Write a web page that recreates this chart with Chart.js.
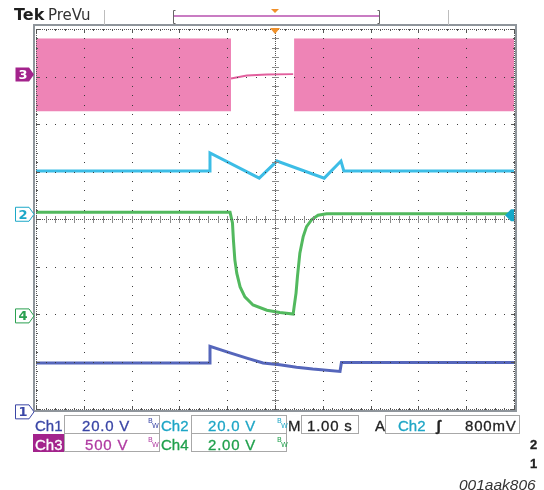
<!DOCTYPE html>
<html>
<head>
<meta charset="utf-8">
<script src="https://cdn.jsdelivr.net/npm/chart.js@4.4.0/dist/chart.umd.min.js"></script>
<style>
  body { margin: 0; background: #fff; }
  #wrap { position: relative; width: 544px; height: 490px; overflow: hidden; }
  #scope { position: absolute; left: 0; top: 0; }
  .t { position: absolute; white-space: nowrap; line-height: 15px; font: 15px 'Liberation Sans', sans-serif; -webkit-text-stroke: 0.3px currentColor; }
  .v { letter-spacing: 0.8px; }
  .box { position: absolute; border: 1px solid #a8a8a8; box-sizing: border-box; height: 19px; }
  .bw { position: absolute; font: 7px 'DejaVu Sans', sans-serif; line-height: 7px; }
  .bw span { position: absolute; }
</style>
</head>
<body>
<div id="wrap">
  <canvas id="scope" width="544" height="490"></canvas>

  <div class="t" style="left:14px;top:7px;font:bold 16px 'DejaVu Sans';line-height:16px;color:#1e1e1e;-webkit-text-stroke:0">Tek</div>
  <div class="t" style="left:48px;top:8px;font:15px 'DejaVu Sans';line-height:15px;color:#333;-webkit-text-stroke:0">PreVu</div>

  <!-- row 1 -->
  <div class="box" style="left:64px;top:415px;width:96px"></div>
  <div class="box" style="left:191px;top:415px;width:96px"></div>
  <div class="box" style="left:301px;top:415px;width:58px"></div>
  <div class="box" style="left:385px;top:415px;width:135px"></div>
  <div class="t" style="left:35px;top:417px;color:#3a46a6">Ch1</div>
  <div class="t v" style="left:82px;top:417px;color:#3a46a6">20.0 V</div>
  <div class="bw" style="left:148px;top:418px;color:#3a46a6"><span style="left:0;top:0">B</span><span style="left:4px;top:5px">W</span></div>
  <div class="t" style="left:161px;top:417px;color:#1fa6c6">Ch2</div>
  <div class="t v" style="left:208px;top:417px;color:#1fa6c6">20.0 V</div>
  <div class="bw" style="left:277px;top:418px;color:#1fa6c6"><span style="left:0;top:0">B</span><span style="left:4px;top:5px">W</span></div>
  <div class="t" style="left:288px;top:417px;color:#222">M</div>
  <div class="t v" style="left:307px;top:417px;color:#222">1.00 s</div>
  <div class="t" style="left:375px;top:417px;color:#222">A</div>
  <div class="t" style="left:398px;top:417px;color:#1fa6c6">Ch2</div>
  <div class="t" style="left:436px;top:417px;color:#222;font-weight:bold">ʃ</div>
  <div class="t v" style="left:465px;top:417px;color:#222">800mV</div>

  <!-- row 2 -->
  <div class="box" style="left:64px;top:433px;width:96px"></div>
  <div class="box" style="left:191px;top:433px;width:96px"></div>
  <div class="t" style="left:33px;top:434px;width:31px;height:18px;background:#a3238c"></div>
  <div class="t" style="left:35px;top:436px;color:#fff">Ch3</div>
  <div class="t v" style="left:85px;top:436px;color:#b03ca2">500 V</div>
  <div class="bw" style="left:148px;top:437px;color:#b03ca2"><span style="left:0;top:0">B</span><span style="left:4px;top:5px">W</span></div>
  <div class="t" style="left:161px;top:436px;color:#20a04c">Ch4</div>
  <div class="t v" style="left:208px;top:436px;color:#20a04c">2.00 V</div>
  <div class="bw" style="left:277px;top:437px;color:#20a04c"><span style="left:0;top:0">B</span><span style="left:4px;top:5px">W</span></div>

  <div class="t" style="left:530px;top:437px;font:bold 13px 'Liberation Sans';color:#222">2</div>
  <div class="t" style="left:530px;top:456px;font:bold 13px 'Liberation Sans';color:#222">1</div>
  <div class="t" style="left:459px;top:476px;font:italic 15.5px 'Liberation Sans';color:#333;-webkit-text-stroke:0">001aak806</div>
</div>

<script>
// time in seconds (1.00 s/div, trigger at 0), levels in screen divisions
const gridTimes = [-5, -4, -3, -2, -1, 0, 1, 2, 3, 4, 5];
const gridLevels = [-4, -3, -2, -1, 0, 1, 2, 3, 4];

// Ch3: switching burst band, off while the load is connected
const ch3BurstStart = [-5, 0.40];
const ch3BurstEnd = [-0.92, 5];
const ch3BurstTop = 3.79;
const ch3BurstBottom = 2.27;
const ch3GapTime = [-0.92, -0.59, -0.17, 0.38];
const ch3GapDiv = [2.96, 3.02, 3.04, 3.05];

// Ch2 (light blue)
const ch2Time = [-5, -1.38, -1.36, -0.33, 0.04, 1.03, 1.38, 1.44, 5];
const ch2Div = [1.01, 1.01, 1.39, 0.86, 1.22, 0.86, 1.22, 1.01, 1.01];

// Ch4 (green)
const ch4Time = [-5, -0.94, -0.89, -0.87, -0.84, -0.80, -0.73, -0.63, -0.46, -0.17, 0.10, 0.38,
                 0.40, 0.44, 0.47, 0.52, 0.59, 0.66, 0.77, 0.90, 1.08, 5];
const ch4Div = [0.14, 0.14, -0.08, -0.44, -0.86, -1.14, -1.43, -1.64, -1.81, -1.92, -1.97, -2.0,
                -1.85, -1.56, -1.21, -0.72, -0.37, -0.16, -0.01, 0.08, 0.11, 0.11];

// Ch1 (dark blue)
const ch1Time = [-5, -1.38, -1.36, -0.94, -0.59, -0.25, 0.10, 0.45, 0.79, 1.36, 1.39, 5];
const ch1Div = [-3.03, -3.03, -2.68, -2.82, -2.93, -3.03, -3.07, -3.12, -3.16, -3.21, -3.02, -3.02];

// channel ground markers on the left edge
const markerLabels = ['3', '2', '4', '1'];
const markerLevels = [3.04, 0.1, -2.04, -4.06];
const markerColors = ['#a3238c', '#1ca8c8', '#2aa050', '#3a46a6'];
const triggerLevel = 0.08;

const pink = '#ee84b6';

function pts(xs, ys) {
    return xs.map((v, i) => ({ x: v, y: ys[i] }));
}

const burstSets = ch3BurstStart.map((s, i) => ({
    data: [{ x: s, y: ch3BurstTop }, { x: ch3BurstEnd[i], y: ch3BurstTop }],
    borderColor: pink,
    borderWidth: 1,
    backgroundColor: pink,
    fill: { value: ch3BurstBottom }
}));

const scopeGrid = {
    id: 'scopeGrid',
    afterDatasetsDraw(chart) {
        const { ctx, chartArea: a, scales: { x, y } } = chart;
        ctx.save();

        // plain grid lines: dots every 1/5 division
        ctx.fillStyle = '#3c3c3c';
        gridTimes.forEach(t => {
            if (t === 0 || t === -5 || t === 5) return;
            const px = Math.round(x.getPixelForValue(t));
            for (let k = 0; k <= 40; k++) {
                ctx.fillRect(px, Math.round(y.getPixelForValue(-4 + k * 0.2)), 1, 1);
            }
        });
        gridLevels.forEach(v => {
            if (v === 0 || v === -4 || v === 4) return;
            const py = Math.round(y.getPixelForValue(v));
            for (let k = 0; k <= 50; k++) {
                ctx.fillRect(Math.round(x.getPixelForValue(-5 + k * 0.2)), py, 1, 1);
            }
        });

        // centre cross with minor ticks
        const cx = Math.round(x.getPixelForValue(0));
        const cy = Math.round(y.getPixelForValue(0));
        ctx.fillStyle = '#555';
        for (let p = a.top; p <= a.bottom; p += 2) ctx.fillRect(cx, p, 1, 1);
        for (let p = a.left; p <= a.right; p += 2) ctx.fillRect(p, cy, 1, 1);
        ctx.fillStyle = '#8a8a8a';
        for (let k = 0; k <= 40; k++) {
            const py = Math.round(y.getPixelForValue(-4 + k * 0.2));
            ctx.fillRect(cx - 3, py, 7, 1);
        }
        for (let k = 0; k <= 50; k++) {
            const px = Math.round(x.getPixelForValue(-5 + k * 0.2));
            ctx.fillRect(px, cy - 3, 1, 7);
        }

        // edges: dotted line and inward ticks
        ctx.fillStyle = '#555';
        for (let p = a.left; p <= a.right; p += 2) {
            ctx.fillRect(p, a.top, 1, 1);
            ctx.fillRect(p, a.bottom, 1, 1);
        }
        for (let p = a.top; p <= a.bottom; p += 2) {
            ctx.fillRect(a.left, p, 1, 1);
            ctx.fillRect(a.right, p, 1, 1);
        }
        for (let k = 0; k <= 50; k++) {
            const px = Math.round(x.getPixelForValue(-5 + k * 0.2));
            const len = k % 5 === 0 ? 4 : 2;
            ctx.fillRect(px, a.top, 1, len);
            ctx.fillRect(px, a.bottom - len + 1, 1, len);
        }
        for (let k = 0; k <= 40; k++) {
            const py = Math.round(y.getPixelForValue(-4 + k * 0.2));
            const len = k % 5 === 0 ? 4 : 2;
            ctx.fillRect(a.left, py, len, 1);
            ctx.fillRect(a.right - len + 1, py, len, 1);
        }

        // frame
        ctx.strokeStyle = '#8f959b';
        ctx.lineWidth = 2;
        ctx.strokeRect(a.left - 2, a.top - 4, a.right - a.left + 4, a.bottom - a.top + 6);
        ctx.restore();
    },
    afterDraw(chart) {
        const { ctx, chartArea: a, scales: { x, y } } = chart;
        ctx.save();
        const tx = x.getPixelForValue(0);

        // record bar at the top
        ctx.strokeStyle = '#bdbdbd';
        ctx.lineWidth = 1;
        ctx.beginPath();
        ctx.moveTo(104.5, 10); ctx.lineTo(104.5, a.top - 4);
        ctx.moveTo(448.5, 10); ctx.lineTo(448.5, a.top - 4);
        ctx.stroke();
        ctx.strokeStyle = '#c97cc3';
        ctx.lineWidth = 2;
        ctx.beginPath();
        ctx.moveTo(173, 16); ctx.lineTo(380, 16);
        ctx.stroke();
        ctx.strokeStyle = '#666';
        ctx.lineWidth = 1;
        ctx.beginPath();
        ctx.moveTo(175.5, 10.5); ctx.lineTo(173.5, 10.5); ctx.lineTo(173.5, 23.5); ctx.lineTo(175.5, 23.5);
        ctx.moveTo(377.5, 10.5); ctx.lineTo(379.5, 10.5); ctx.lineTo(379.5, 23.5); ctx.lineTo(377.5, 23.5);
        ctx.stroke();

        ctx.fillStyle = '#f0902a';
        ctx.beginPath();
        ctx.moveTo(tx - 4, 9); ctx.lineTo(tx + 4, 9); ctx.lineTo(tx, 13); ctx.closePath();
        ctx.fill();
        ctx.beginPath();
        ctx.moveTo(tx - 5, a.top - 1); ctx.lineTo(tx + 5, a.top - 1); ctx.lineTo(tx, a.top + 5); ctx.closePath();
        ctx.fill();

        // trigger level arrow on the right
        const ty = y.getPixelForValue(triggerLevel);
        ctx.fillStyle = '#14a8c8';
        ctx.beginPath();
        ctx.moveTo(a.right - 9, ty); ctx.lineTo(a.right - 3, ty - 6); ctx.lineTo(a.right, ty - 6);
        ctx.lineTo(a.right, ty + 6); ctx.lineTo(a.right - 3, ty + 6); ctx.closePath();
        ctx.fill();

        // channel markers
        ctx.font = 'bold 13px "DejaVu Sans"';
        ctx.textAlign = 'center';
        ctx.textBaseline = 'middle';
        markerLabels.forEach((lab, i) => {
            const my = y.getPixelForValue(markerLevels[i]);
            const c = markerColors[i];
            ctx.beginPath();
            ctx.moveTo(15.5, my - 7); ctx.lineTo(29, my - 7); ctx.lineTo(34, my);
            ctx.lineTo(29, my + 7); ctx.lineTo(15.5, my + 7); ctx.closePath();
            if (i === 0) {
                ctx.fillStyle = c;
                ctx.fill();
                ctx.fillStyle = '#fff';
            } else {
                ctx.fillStyle = '#fff';
                ctx.fill();
                ctx.strokeStyle = c;
                ctx.lineWidth = 1;
                ctx.stroke();
                ctx.fillStyle = c;
            }
            ctx.fillText(lab, 23, my + 1);
        });
        ctx.restore();
    }
};

const ctx = document.getElementById('scope').getContext('2d');
new Chart(ctx, {
    type: 'line',
    data: {
        datasets: [
            ...burstSets,
            { data: pts(ch3GapTime, ch3GapDiv), borderColor: '#e2609e', borderWidth: 2, fill: false },
            { data: pts(ch2Time, ch2Div), borderColor: '#3cbde6', borderWidth: 3, fill: false },
            { data: pts(ch4Time, ch4Div), borderColor: '#52b95e', borderWidth: 3, fill: false },
            { data: pts(ch1Time, ch1Div), borderColor: '#5566bb', borderWidth: 3, fill: false }
        ]
    },
    options: {
        responsive: false,
        animation: false,
        devicePixelRatio: 1,
        layout: { padding: { left: 36, right: 30, top: 29, bottom: 81 } },
        elements: { point: { radius: 0 }, line: { tension: 0 } },
        scales: {
            x: { type: 'linear', min: -5, max: 5, display: false },
            y: { type: 'linear', min: -4, max: 4, display: false }
        },
        plugins: { legend: { display: false }, tooltip: { enabled: false } }
    },
    plugins: [scopeGrid]
});
</script>
</body>
</html>
